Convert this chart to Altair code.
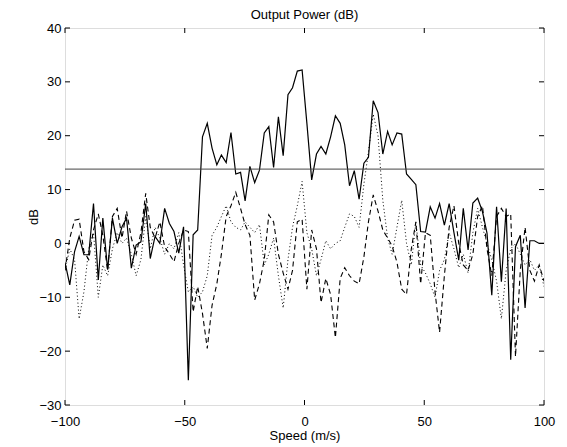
import altair as alt
import pandas as pd

# Sampling positions (m/s)
speed = [
    -100.0, -98.0, -96.0, -94.1, -92.1, -90.1, -88.1, -86.1, -84.2, -82.2,
    -80.2, -78.2, -76.2, -74.3, -72.3, -70.3, -68.3, -66.3, -64.4, -62.4,
    -60.4, -58.4, -56.4, -54.5, -52.5, -50.5, -48.5, -46.5, -44.6, -42.6,
    -40.6, -38.6, -36.6, -34.7, -32.7, -30.7, -28.7, -26.7, -24.8, -22.8,
    -20.8, -18.8, -16.8, -14.9, -12.9, -10.9, -8.9, -6.9, -5.0, -3.0,
    -1.0, 1.0, 3.0, 5.0, 6.9, 8.9, 10.9, 12.9, 14.9, 16.8,
    18.8, 20.8, 22.8, 24.8, 26.7, 28.7, 30.7, 32.7, 34.7, 36.6,
    38.6, 40.6, 42.6, 44.6, 46.5, 48.5, 50.5, 52.5, 54.5, 56.4,
    58.4, 60.4, 62.4, 64.4, 66.3, 68.3, 70.3, 72.3, 74.3, 76.2,
    78.2, 80.2, 82.2, 84.2, 86.1, 88.1, 90.1, 92.1, 94.1, 96.0,
    98.0, 100.0,
]

# Solid series (dB)
solid = [
    -3.5, -7.7, -1.5, 1.3, -2.1, -2.1, 7.4, -6.8, 4.7, -4.9,
    4.7, 0.0, 3.1, 4.7, -4.6, -0.3, 0.3, 7.4, -2.8, 1.3,
    0.0, 6.5, 3.7, 2.2, -1.8, 3.1, -25.4, 1.6, 2.5, 19.8,
    22.3, 17.7, 14.6, 16.4, 15.0, 20.6, 12.9, 13.2, 7.9, 14.3,
    11.3, 13.6, 20.5, 21.7, 14.1, 23.5, 16.3, 27.6, 28.9, 32.0,
    32.2, 22.3, 11.8, 16.6, 18.0, 16.6, 19.8, 23.7, 22.3, 18.3,
    10.7, 13.5, 8.2, 14.9, 16.0, 26.5, 24.3, 16.6, 20.8, 18.3,
    20.5, 20.3, 12.9, 11.9, 10.9, 2.2, 2.1, 6.8, 4.7, 7.4,
    3.4, 7.4, 2.0, -3.1, 6.5, -1.2, 7.5, 8.4, 5.9, 1.9,
    -9.6, 6.8, -7.1, 6.5, -21.6, -0.6, 1.5, -12.0, 0.5, 0.5,
    0.0, 0.0,
]

# Dashed series (dB)
dashed = [
    -5.0, 1.0, 4.3, 4.5, -1.5, -3.0, 2.5, 5.5, 1.5, -5.0,
    5.0, 6.5, 1.0, 6.0, 1.0, -2.0, 2.0, 9.3, 3.0, 1.0,
    4.0, -0.6, -2.0, -3.4, 0.0, 2.5, 2.2, -12.7, -8.0, -13.0,
    -19.5, -11.5, -7.5, -2.0, 5.0, 7.0, 9.5, 6.5, 3.5, 1.5,
    -10.5, -7.5, -3.0, 5.3, 4.0, -2.0, -5.5, -8.5, -5.0, 4.0,
    4.5, -8.5, 2.5, -1.0, -11.0, -6.5, -9.5, -17.5, -6.5, -4.5,
    -6.0, -7.0, -7.5, -2.5, 4.0, 9.0, 6.0, 2.5, 1.0, -0.5,
    -3.5, -8.5, -9.5, -1.0, 4.0, -7.5, 2.0, 1.5, -9.0, -16.5,
    -6.0, 3.0, 7.0, 0.0, -4.0, -5.0, -2.0, 5.0, 7.0, -1.0,
    -6.0, 5.0, 6.5, 5.0, 5.5, -21.0, -5.0, 3.0, -5.0, -7.0,
    -4.0, -7.0,
]

# Dotted series (dB)
dotted = [
    -5.0, -1.0, -3.0, -14.0, -9.0, -1.0, 2.0, -10.0, -4.0, -6.0,
    -1.0, 2.0, 0.0, 1.0, -2.0, -6.0, -3.0, 5.0, -1.0, 3.0,
    1.0, -2.0, 0.0, -1.0, 2.0, -4.0, -9.0, -8.0, -10.0, -9.0,
    -6.0, 1.5, 3.0, 5.0, 7.0, 4.0, 3.0, 2.5, 4.0, 3.0,
    2.0, 3.5, -4.0, -2.0, 1.0, -6.0, -12.0, -3.0, 3.0, 7.0,
    11.5, 2.0, -1.0, -6.0, -3.0, 0.5, -1.0, 0.0, 0.5, 3.0,
    5.5, 5.0, 3.0, 11.0, 17.0, 24.0, 20.0, 8.0, 1.0, -2.0,
    3.0, 8.0, 0.0, -4.0, 4.0, -4.0, -5.5, -7.5, -10.0, -5.0,
    -3.0, 2.0, -1.0, -4.5, -2.0, -5.5, 2.0, 6.5, 3.0, 0.0,
    -3.0, -7.0, -14.0, -5.0, -1.0, 0.0, -2.0, -4.0, -3.0, -5.0,
    -4.0, -8.0,
]

threshold = [13.8]
x_ticks = [-100, -50, 0, 50, 100]
y_ticks = [-30, -20, -10, 0, 10, 20, 30, 40]

W, H = 479, 377
FONT = "Liberation Sans"
TICK = 5

rows = []
for name, vals in (("solid", solid), ("dashed", dashed), ("dotted", dotted)):
    for s, v in zip(speed, vals):
        rows.append({"speed": s, "value": v, "series": name})
df = pd.DataFrame(rows)

xs = alt.Scale(domain=[-100, 100], nice=False, zero=False)
ys = alt.Scale(domain=[-30, 40], nice=False, zero=False)

xaxis = alt.Axis(values=x_ticks, ticks=False, domain=False, grid=False,
                 labelPadding=10, title="Speed (m/s)", titlePadding=1,
                 labelFontSize=13, titleFontSize=13, labelFont=FONT, titleFont=FONT,
                 titleFontWeight="normal", labelColor="black", titleColor="black",
                 labelFlush=False)
yaxis = alt.Axis(values=y_ticks, ticks=False, domain=False, grid=False,
                 labelPadding=4, title="dB", titleX=-25, titleBaseline="bottom",
                 labelFontSize=13, titleFontSize=13, labelFont=FONT, titleFont=FONT,
                 titleFontWeight="normal", labelColor="black", titleColor="black",
                 labelFlush=False)

X = alt.X("speed:Q", scale=xs, axis=xaxis)
Y = alt.Y("value:Q", scale=ys, axis=yaxis)

base = alt.Chart(df)
l_dotted = base.transform_filter(alt.datum.series == "dotted").mark_line(
    color="black", strokeWidth=1, strokeDash=[1, 2.5], clip=True).encode(x=X, y=Y)
l_dashed = base.transform_filter(alt.datum.series == "dashed").mark_line(
    color="black", strokeWidth=1.1, strokeDash=[5, 3.5], clip=True).encode(x=X, y=Y)
l_solid = base.transform_filter(alt.datum.series == "solid").mark_line(
    color="black", strokeWidth=1.2, clip=True).encode(x=X, y=Y)

thr = alt.Chart(pd.DataFrame({"value": threshold})).mark_rule(
    color="#444", strokeWidth=1).encode(y=Y)

xt = alt.Chart(pd.DataFrame({"speed": x_ticks}))
yt = alt.Chart(pd.DataFrame({"value": y_ticks}))
tick_bottom = xt.mark_rule(color="black", strokeWidth=1).encode(
    x=X, y=alt.value(H), y2=alt.value(H - TICK))
tick_top = xt.mark_rule(color="black", strokeWidth=1).encode(
    x=X, y=alt.value(0), y2=alt.value(TICK))
tick_left = yt.mark_rule(color="black", strokeWidth=1).encode(
    y=Y, x=alt.value(0), x2=alt.value(TICK))
tick_right = yt.mark_rule(color="black", strokeWidth=1).encode(
    y=Y, x=alt.value(W), x2=alt.value(W - TICK))

chart = alt.layer(
    l_dotted, l_dashed, l_solid, thr, tick_bottom, tick_top, tick_left, tick_right
).properties(
    width=W, height=H,
    title=alt.Title("Output Power (dB)", fontSize=13, font=FONT,
                    fontWeight="normal", color="black", offset=0),
    autosize=alt.AutoSizeParams(type="none"),
    padding={"left": 57, "top": 20, "right": 15, "bottom": 38},
).configure_view(
    stroke="black", strokeWidth=1
).configure(background="white")

chart.save("out.html", embed_options={"renderer": "svg", "actions": False})
